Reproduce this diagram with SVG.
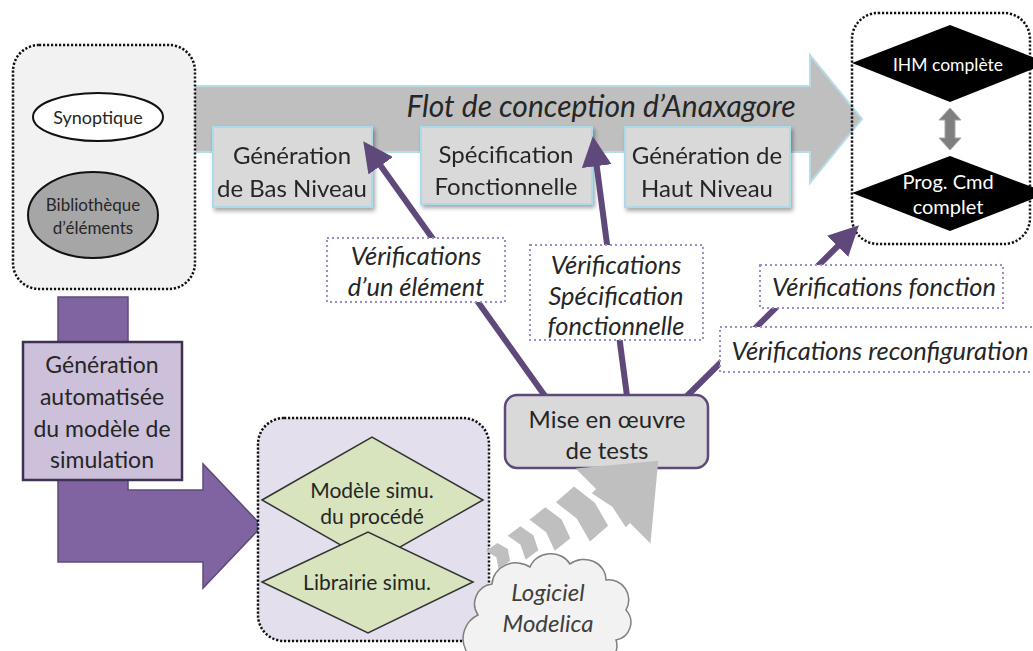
<svg xmlns="http://www.w3.org/2000/svg" width="1033" height="651" viewBox="0 0 1033 651">
<defs>
<style>
.t{font-family:Lato,"Open Sans","Liberation Sans",sans-serif;fill:#262626;text-anchor:middle;dominant-baseline:central}
.it{font-style:italic}
.dot{fill:none;stroke:#111;stroke-width:2.5;stroke-dasharray:2.2 1.8}
.lbl{fill:#fff;stroke:#a08cc4;stroke-width:2;stroke-dasharray:2 3}
.step{fill:#d9d9d9;stroke:#a9dce8;stroke-width:2}
.conn{stroke:#5f497a;stroke-width:6;fill:none}
.v{font-size:25.5px}
</style>
<filter id="sh" x="-10%" y="-10%" width="130%" height="140%">
<feDropShadow dx="2" dy="3" stdDeviation="2" flood-color="#000" flood-opacity="0.35"/>
</filter>
<marker id="ah" markerWidth="5" markerHeight="5" refX="2.2" refY="2.5" orient="auto" markerUnits="strokeWidth">
<path d="M0,0 L5,2.5 L0,5 Z" fill="#5f497a"/>
</marker>
</defs>
<rect width="1033" height="651" fill="#fff"/>

<g id="flow-arrow">
<polygon points="190,86 810,86 810,55 862,119 810,183 810,152 190,152" fill="#bfbfbf" stroke="#b7dde8" stroke-width="2"/>
<text class="t it" x="601" y="105" font-size="30">Flot de conception d’Anaxagore</text>
</g>

<g id="sources">
<rect x="13" y="45" width="182" height="244" rx="26" fill="#f2f2f2"/>
<rect class="dot" x="13" y="45" width="182" height="244" rx="26"/>
<g id="synoptique">
<ellipse cx="98" cy="117" rx="65" ry="24" fill="#fff" stroke="#111" stroke-width="2"/>
<text class="t" x="98" y="117" font-size="18">Synoptique</text>
</g>
<g id="bibliotheque">
<ellipse cx="93" cy="215" rx="65" ry="43" fill="#a6a6a6" stroke="#111" stroke-width="2"/>
<text class="t" x="93" y="204" font-size="17">Bibliothèque</text>
<text class="t" x="93" y="227" font-size="17">d’éléments</text>
</g>
</g>

<g id="gen-bas" filter="url(#sh)">
<rect class="step" x="213" y="127" width="159" height="80"/>
<text class="t" x="292" y="154" font-size="24">Génération</text>
<text class="t" x="292" y="187" font-size="24">de Bas Niveau</text>
</g>
<g id="spec-fonc" filter="url(#sh)">
<rect class="step" x="421" y="127" width="171" height="77"/>
<text class="t" x="506" y="153" font-size="24">Spécification</text>
<text class="t" x="506" y="185" font-size="24">Fonctionnelle</text>
</g>
<g id="gen-haut" filter="url(#sh)">
<rect class="step" x="625" y="127" width="165" height="80"/>
<text class="t" x="707" y="154" font-size="24">Génération de</text>
<text class="t" x="707" y="187" font-size="24">Haut Niveau</text>
</g>

<g id="results">
<rect class="dot" x="852" y="13" width="178" height="231" rx="26"/>
<g id="ihm">
<polygon points="852,63 950,25 1048,63 950,102" fill="#000"/>
<text class="t" x="948" y="64" font-size="17.5" style="fill:#fff">IHM complète</text>
</g>
<polygon points="950,108 961,120 955,120 955,138 961,138 950,150 939,138 945,138 945,120 939,120" fill="#7f7f7f" stroke="#a6a6a6" stroke-width="1"/>
<g id="prog">
<polygon points="852,193 950,156 1048,193 950,231" fill="#000"/>
<text class="t" x="948" y="181" font-size="20" style="fill:#fff">Prog. Cmd</text>
<text class="t" x="948" y="206" font-size="20" style="fill:#fff">complet</text>
</g>
</g>

<g id="gen-auto">
<polygon points="58,297 128,297 128,490 203,490 203,464 262,526 203,588 203,562 58,562" fill="#8064a2" stroke="#5f497a" stroke-width="1.5"/>
<rect x="23" y="342" width="159" height="138" fill="#ccc0da" stroke="#3f3151" stroke-width="2.5"/>
<text class="t" x="102" y="364" font-size="23">Génération</text>
<text class="t" x="102" y="396" font-size="23">automatisée</text>
<text class="t" x="102" y="428" font-size="23">du modèle de</text>
<text class="t" x="102" y="459" font-size="23">simulation</text>
</g>

<g id="simu">
<rect x="258" y="418" width="231" height="223" rx="26" fill="#e4dfec"/>
<rect class="dot" x="258" y="418" width="231" height="223" rx="26"/>
<g id="modele">
<polygon points="262,500 372,437 483,500 372,563" fill="#d7e4bd" stroke="#333" stroke-width="1.5"/>
<text class="t" x="372" y="489" font-size="21">Modèle simu.</text>
<text class="t" x="372" y="515" font-size="21">du procédé</text>
</g>
<g id="librairie">
<polygon points="262,582 368,532 473,582 368,633" fill="#d7e4bd" stroke="#333" stroke-width="1.5"/>
<text class="t" x="367" y="581" font-size="21">Librairie simu.</text>
</g>
</g>

<g id="connectors">
<line class="conn" x1="545" y1="396" x2="373" y2="155" marker-end="url(#ah)"/>
<line class="conn" x1="627" y1="396" x2="595" y2="153" marker-end="url(#ah)"/>
<line class="conn" x1="687" y1="396" x2="847" y2="237" marker-end="url(#ah)"/>
</g>

<g id="tests">
<rect x="505" y="395" width="203" height="73" rx="12" fill="#d9d9d9" stroke="#5f497a" stroke-width="2.5"/>
<text class="t" x="607" y="418" font-size="24">Mise en œuvre</text>
<text class="t" x="607" y="449" font-size="24">de tests</text>
</g>

<g id="modelica-arrow" fill="#bfbfbf">
<polygon transform="translate(498,556) rotate(-35)" points="-7,-11 7,-11 12,0 7,11 -7,11 -2,0"/>
<polygon transform="translate(523,543) rotate(-37)" points="-8,-15 8,-15 13,0 8,15 -8,15 -3,0"/>
<polygon transform="translate(550,529) rotate(-39)" points="-10,-20 10,-20 15,0 10,20 -10,20 -5,0"/>
<polygon transform="translate(582,514) rotate(-41)" points="-12,-26 12,-26 17,0 12,26 -12,26 -7,0"/>
<polygon transform="translate(613,506) rotate(-45)" points="-6,-24 0,-24 0,-53 64,0 0,53 0,24 -6,24 -1,0"/>
</g>

<g id="modelica">
<path d="M478,615 A20,20 0 0 1 492,584 A24,22 0 0 1 530,567 A22,20 0 0 1 570,564 A22,20 0 0 1 606,580 A20,20 0 0 1 626,610 A18,18 0 0 1 616,640 A22,20 0 0 1 582,662 L500,662 A20,20 0 0 1 478,615 Z" fill="#f2f2f2" stroke="#808080" stroke-width="1.5"/>
<text class="t it" x="548" y="591" font-size="24" style="fill:#404040">Logiciel</text>
<text class="t it" x="548" y="622" font-size="24" style="fill:#404040">Modelica</text>
</g>

<g id="verif-element">
<rect class="lbl" x="327" y="238" width="178" height="64"/>
<text class="t it v" x="416" y="255">Vérifications</text>
<text class="t it v" x="416" y="286">d’un élément</text>
</g>
<g id="verif-spec">
<rect class="lbl" x="530" y="245" width="173" height="95"/>
<text class="t it v" x="616" y="264">Vérifications</text>
<text class="t it v" x="616" y="295">Spécification</text>
<text class="t it v" x="616" y="325">fonctionnelle</text>
</g>
<g id="verif-fonction">
<rect class="lbl" x="760" y="265" width="243" height="43"/>
<text class="t it v" x="884" y="286">Vérifications fonction</text>
</g>
<g id="verif-reconf">
<rect class="lbl" x="720" y="327" width="320" height="45"/>
<text class="t it v" x="880" y="350">Vérifications reconfiguration</text>
</g>
</svg>
